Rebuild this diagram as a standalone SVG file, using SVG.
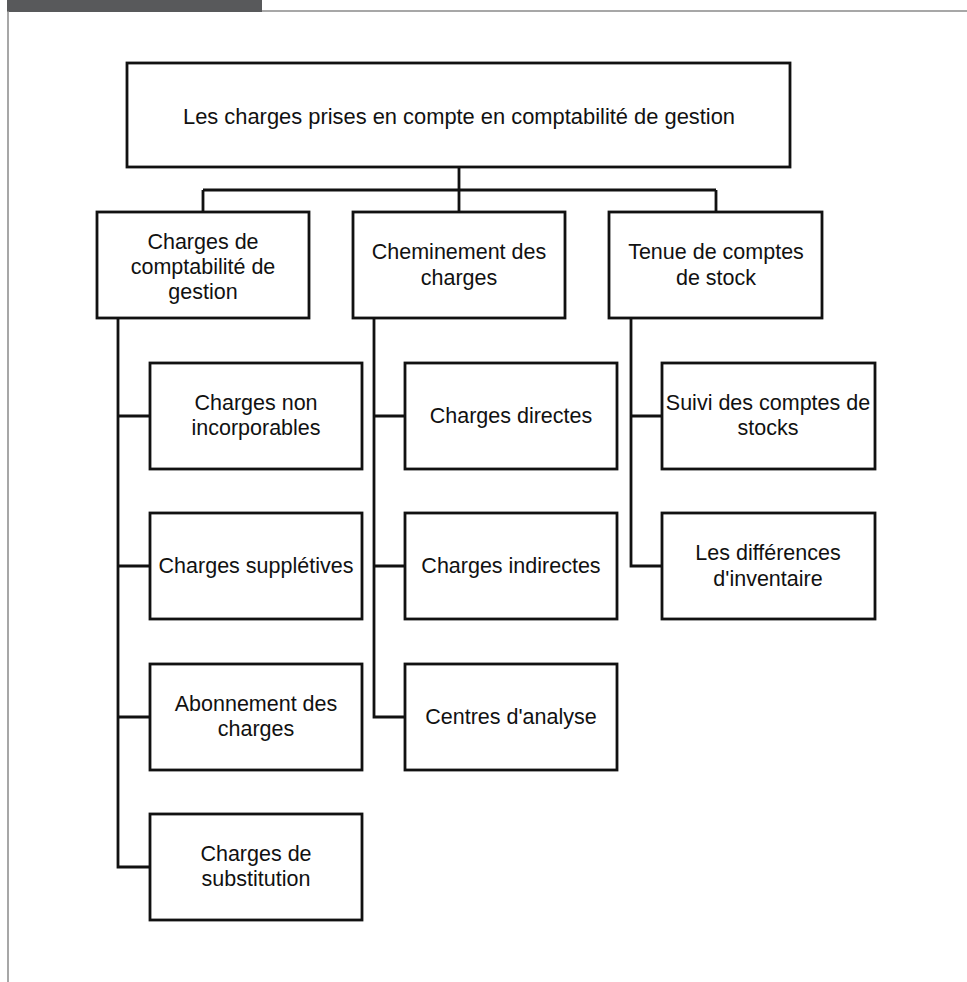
<svg xmlns="http://www.w3.org/2000/svg" width="967" height="982" viewBox="0 0 967 982">
<style>
.box{fill:#fff;stroke:#111;stroke-width:2.8}
.ln{fill:none;stroke:#111;stroke-width:2.8}
text{font-family:"Liberation Sans",Arial,sans-serif;font-size:21.5px;fill:#111;text-anchor:middle}
</style>
<rect width="967" height="982" fill="#fff"/>
<g id="frame">
<rect x="7" y="0" width="255" height="12" fill="#58595b"/>
<path d="M262 11 H967 M8 11 V982" stroke="#8a8a8a" stroke-width="1.5" fill="none"/>
</g>
<g id="connectors">
<path class="ln" d="M459 167 V190 M203 190 H716 M203 190 V212 M459 190 V212 M716 190 V212"/>
<path class="ln" d="M118 318 V867 H150 M118 416 H150 M118 566 H150 M118 717 H150"/>
<path class="ln" d="M374 318 V717 H405 M374 416 H405 M374 566 H405"/>
<path class="ln" d="M631 318 V566 H662 M631 416 H662"/>
</g>
<g id="root"><rect class="box" x="127" y="63" width="663" height="104"/><text x="459" y="124" textLength="552" lengthAdjust="spacingAndGlyphs">Les charges prises en compte en comptabilité de gestion</text></g>
<g id="n1"><rect class="box" x="97" y="212" width="212" height="106"/><text x="203" y="249">Charges de</text><text x="203" y="274">comptabilité de</text><text x="203" y="299">gestion</text></g>
<g id="n2"><rect class="box" x="353" y="212" width="212" height="106"/><text x="459" y="259">Cheminement des</text><text x="459" y="285">charges</text></g>
<g id="n3"><rect class="box" x="609" y="212" width="213" height="106"/><text x="716" y="259">Tenue de comptes</text><text x="716" y="285">de stock</text></g>
<g id="a1"><rect class="box" x="150" y="363" width="212" height="106"/><text x="256" y="410">Charges non</text><text x="256" y="435">incorporables</text></g>
<g id="a2"><rect class="box" x="150" y="513" width="212" height="106"/><text x="256" y="573">Charges supplétives</text></g>
<g id="a3"><rect class="box" x="150" y="664" width="212" height="106"/><text x="256" y="711">Abonnement des</text><text x="256" y="736">charges</text></g>
<g id="a4"><rect class="box" x="150" y="814" width="212" height="106"/><text x="256" y="861">Charges de</text><text x="256" y="886">substitution</text></g>
<g id="b1"><rect class="box" x="405" y="363" width="212" height="106"/><text x="511" y="423">Charges directes</text></g>
<g id="b2"><rect class="box" x="405" y="513" width="212" height="106"/><text x="511" y="573">Charges indirectes</text></g>
<g id="b3"><rect class="box" x="405" y="664" width="212" height="106"/><text x="511" y="724">Centres d'analyse</text></g>
<g id="c1"><rect class="box" x="662" y="363" width="213" height="106"/><text x="768" y="410">Suivi des comptes de</text><text x="768" y="435">stocks</text></g>
<g id="c2"><rect class="box" x="662" y="513" width="213" height="106"/><text x="768" y="560">Les différences</text><text x="768" y="586">d'inventaire</text></g>
</svg>
